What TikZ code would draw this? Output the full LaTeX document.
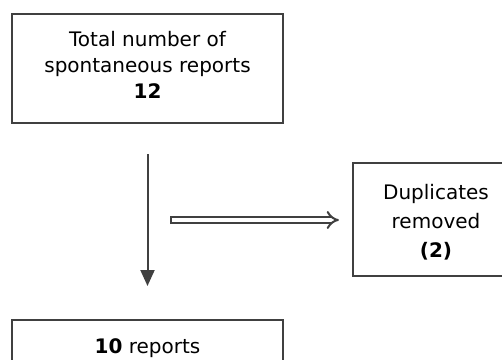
\documentclass[tikz,border=0pt]{standalone}
\usepackage{fontspec}
\setmainfont{DejaVu Sans}
\usetikzlibrary{arrows.meta}
\definecolor{edgegray}{HTML}{404040}
\tikzset{
  stagebox/.style={draw=edgegray,line width=2.2pt,align=center,inner sep=2pt,
    font=\fontsize{20}{26}\selectfont},
  flow/.style={draw=edgegray,line width=2pt,-{Triangle[width=14pt,length=16pt]}},
  dropflow/.style={draw=edgegray,line width=2pt,double,double distance=4pt,
    {Bar[width=8pt,line width=2pt]}-{Implies[length=11pt,width=24pt]}}
}

\begin{document}
\begin{tikzpicture}[x=1pt,y=-1pt]
  \useasboundingbox (0,0) rectangle (502,359);
  \clip (0,0) rectangle (502,359);
  \node[stagebox,minimum width=271pt,minimum height=109pt,text depth=8pt] (total) at (147.5,68.5)
    {Total number of\\spontaneous reports\\\textbf{12}};
  \node[stagebox,minimum width=166pt,minimum height=113pt,text height=79pt,
    font=\fontsize{20}{29}\selectfont] (dup) at (436,219.5)
    {Duplicates\\removed\\\textbf{(2)}};
  \node[stagebox,anchor=north,minimum width=271pt,inner ysep=19pt,
    text height=14pt,text depth=5pt] (ten) at (147.5,319) {\textbf{10} reports};
  \coordinate (split) at (total.south |- 0,220);
  \draw[flow,shorten <=30pt,shorten >=33pt] (total.south) -- (ten.north);
  \draw[dropflow,shorten <=22pt,shorten >=13pt] (split) -- (dup.west |- split);
\end{tikzpicture}
\end{document}
